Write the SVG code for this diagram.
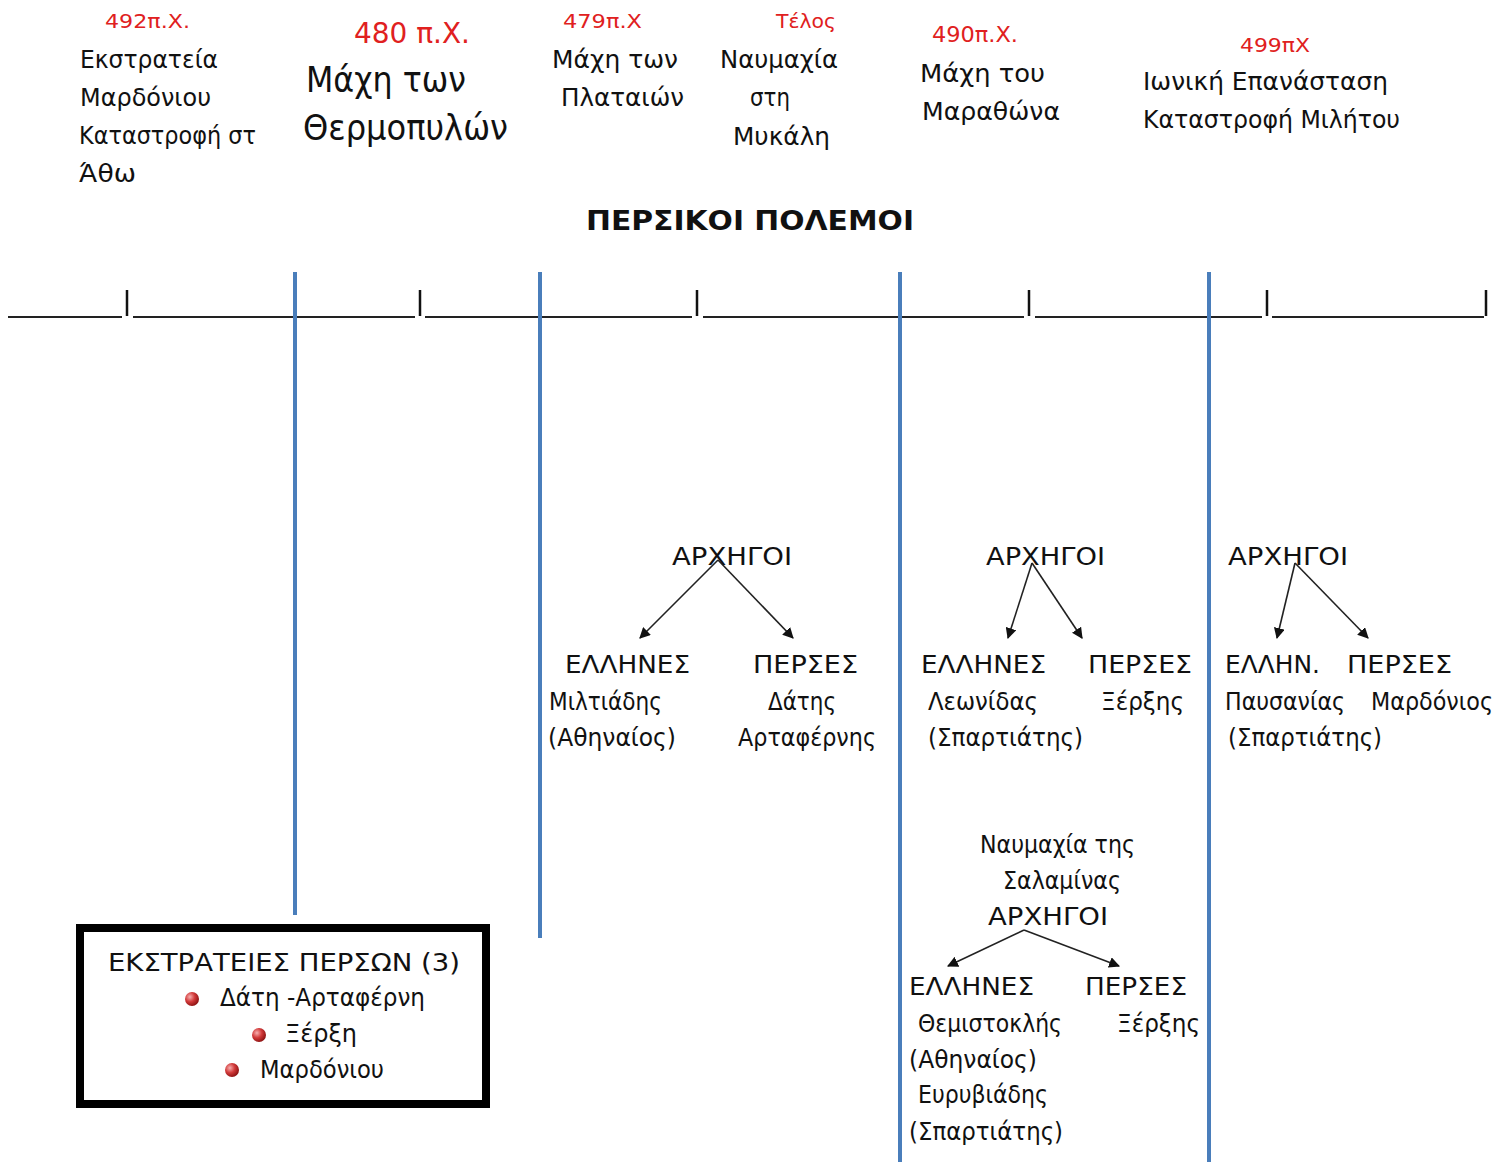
<svg xmlns="http://www.w3.org/2000/svg" width="1506" height="1162" viewBox="0 0 1506 1162">
<style>
text{font-family:"DejaVu Sans","Noto Sans",sans-serif;fill:#111;}
.red{fill:#e02020;}
.t{font-size:25px;}
.big{font-size:35px;}
.title{font-size:27px;font-weight:bold;}
.axis{stroke:#222;stroke-width:2;fill:none;}
.tick{stroke:#111;stroke-width:2.5;}
.blue{stroke:#4a7ebb;stroke-width:4;}
.conn{stroke:#222;stroke-width:1.6;fill:none;marker-end:url(#ah);}
</style>
<defs>
<marker id="ah" viewBox="0 0 10 10" refX="9" refY="5" markerWidth="11" markerHeight="11" markerUnits="userSpaceOnUse" orient="auto">
<path d="M0,0 L10,5 L0,10 z" fill="#111"/>
</marker>
<radialGradient id="ball" cx="0.35" cy="0.35" r="0.7">
<stop offset="0" stop-color="#f7b0b0"/>
<stop offset="0.5" stop-color="#d23a3a"/>
<stop offset="1" stop-color="#8a1010"/>
</radialGradient>
</defs>
<rect width="1506" height="1162" fill="#fff"/>

<g id="events">
<g id="e492">
<text class="red" x="105" y="28" font-size="20" textLength="85" lengthAdjust="spacingAndGlyphs">492π.Χ.</text>
<text class="t" x="80" y="68" textLength="138" lengthAdjust="spacingAndGlyphs">Εκστρατεία</text>
<text class="t" x="80" y="106" textLength="131" lengthAdjust="spacingAndGlyphs">Μαρδόνιου</text>
<text class="t" x="79" y="144" textLength="177" lengthAdjust="spacingAndGlyphs">Καταστροφή στ</text>
<text class="t" x="79" y="182" textLength="57" lengthAdjust="spacingAndGlyphs">Άθω</text>
</g>
<g id="e480">
<text class="red" x="354" y="43" font-size="28" textLength="116" lengthAdjust="spacingAndGlyphs">480 π.Χ.</text>
<text class="big" x="306" y="92" textLength="160" lengthAdjust="spacingAndGlyphs">Μάχη των</text>
<text class="big" x="303" y="140" textLength="205" lengthAdjust="spacingAndGlyphs">Θερμοπυλών</text>
</g>
<g id="e479">
<text class="red" x="563" y="28" font-size="20" textLength="79" lengthAdjust="spacingAndGlyphs">479π.Χ</text>
<text class="t" x="552" y="68" textLength="126" lengthAdjust="spacingAndGlyphs">Μάχη των</text>
<text class="t" x="561" y="106" textLength="123" lengthAdjust="spacingAndGlyphs">Πλαταιών</text>
</g>
<g id="eTelos">
<text class="red" x="776" y="28" font-size="20" textLength="60" lengthAdjust="spacingAndGlyphs">Τέλος</text>
<text class="t" x="720" y="68" textLength="118" lengthAdjust="spacingAndGlyphs">Ναυμαχία</text>
<text class="t" x="750" y="106" textLength="40" lengthAdjust="spacingAndGlyphs">στη</text>
<text class="t" x="733" y="145" textLength="97" lengthAdjust="spacingAndGlyphs">Μυκάλη</text>
</g>
<g id="e490">
<text class="red" x="932" y="42" font-size="22" textLength="86" lengthAdjust="spacingAndGlyphs">490π.Χ.</text>
<text class="t" x="920" y="82" textLength="125" lengthAdjust="spacingAndGlyphs">Μάχη του</text>
<text class="t" x="922" y="120" textLength="138" lengthAdjust="spacingAndGlyphs">Μαραθώνα</text>
</g>
<g id="e499">
<text class="red" x="1240" y="52" font-size="20" textLength="70" lengthAdjust="spacingAndGlyphs">499πΧ</text>
<text class="t" x="1143" y="90" textLength="245" lengthAdjust="spacingAndGlyphs">Ιωνική Επανάσταση</text>
<text class="t" x="1143" y="128" textLength="257" lengthAdjust="spacingAndGlyphs">Καταστροφή Μιλήτου</text>
</g>
</g>

<g id="title">
<text class="title" x="586" y="230" textLength="328" lengthAdjust="spacingAndGlyphs">ΠΕΡΣΙΚΟΙ ΠΟΛΕΜΟΙ</text>
</g>

<g id="timeline">
<path class="axis" d="M8,317 H122 M133,317 H415 M425,317 H692 M703,317 H1024 M1035,317 H1262 M1272,317 H1484"/>
<path class="tick" d="M127,290 V316 M420,290 V316 M697,290 V316 M1029,290 V316 M1267,290 V316 M1486,290 V316"/>
</g>

<g id="dividers">
<line class="blue" x1="295" y1="272" x2="295" y2="915"/>
<line class="blue" x1="540" y1="272" x2="540" y2="938"/>
<line class="blue" x1="900" y1="272" x2="900" y2="1162"/>
<line class="blue" x1="1209" y1="272" x2="1209" y2="1162"/>
</g>

<g id="leaders-marathon">
<text class="t" x="672" y="565" textLength="120" lengthAdjust="spacingAndGlyphs">ΑΡΧΗΓΟΙ</text>
<text class="t" x="565" y="673" textLength="125" lengthAdjust="spacingAndGlyphs">ΕΛΛΗΝΕΣ</text>
<text class="t" x="753" y="673" textLength="105" lengthAdjust="spacingAndGlyphs">ΠΕΡΣΕΣ</text>
<text class="t" x="549" y="710" textLength="113" lengthAdjust="spacingAndGlyphs">Μιλτιάδης</text>
<text class="t" x="548" y="746" textLength="128" lengthAdjust="spacingAndGlyphs">(Αθηναίος)</text>
<text class="t" x="768" y="710" textLength="68" lengthAdjust="spacingAndGlyphs">Δάτης</text>
<text class="t" x="738" y="746" textLength="138" lengthAdjust="spacingAndGlyphs">Αρταφέρνης</text>
</g>

<g id="leaders-thermopylae">
<text class="t" x="986" y="565" textLength="119" lengthAdjust="spacingAndGlyphs">ΑΡΧΗΓΟΙ</text>
<text class="t" x="921" y="673" textLength="125" lengthAdjust="spacingAndGlyphs">ΕΛΛΗΝΕΣ</text>
<text class="t" x="1088" y="673" textLength="104" lengthAdjust="spacingAndGlyphs">ΠΕΡΣΕΣ</text>
<text class="t" x="928" y="710" textLength="110" lengthAdjust="spacingAndGlyphs">Λεωνίδας</text>
<text class="t" x="928" y="746" textLength="155" lengthAdjust="spacingAndGlyphs">(Σπαρτιάτης)</text>
<text class="t" x="1101" y="710" textLength="83" lengthAdjust="spacingAndGlyphs">Ξέρξης</text>
</g>

<g id="leaders-plataea">
<text class="t" x="1228" y="565" textLength="120" lengthAdjust="spacingAndGlyphs">ΑΡΧΗΓΟΙ</text>
<text class="t" x="1225" y="673" textLength="95" lengthAdjust="spacingAndGlyphs">ΕΛΛΗΝ.</text>
<text class="t" x="1347" y="673" textLength="105" lengthAdjust="spacingAndGlyphs">ΠΕΡΣΕΣ</text>
<text class="t" x="1225" y="710" textLength="120" lengthAdjust="spacingAndGlyphs">Παυσανίας</text>
<text class="t" x="1371" y="710" textLength="122" lengthAdjust="spacingAndGlyphs">Μαρδόνιος</text>
<text class="t" x="1228" y="746" textLength="154" lengthAdjust="spacingAndGlyphs">(Σπαρτιάτης)</text>
</g>

<g id="leaders-salamis">
<text class="t" x="980" y="853" textLength="155" lengthAdjust="spacingAndGlyphs">Ναυμαχία της</text>
<text class="t" x="1003" y="889" textLength="118" lengthAdjust="spacingAndGlyphs">Σαλαμίνας</text>
<text class="t" x="988" y="925" textLength="120" lengthAdjust="spacingAndGlyphs">ΑΡΧΗΓΟΙ</text>
<text class="t" x="909" y="995" textLength="125" lengthAdjust="spacingAndGlyphs">ΕΛΛΗΝΕΣ</text>
<text class="t" x="1085" y="995" textLength="102" lengthAdjust="spacingAndGlyphs">ΠΕΡΣΕΣ</text>
<text class="t" x="918" y="1032" textLength="144" lengthAdjust="spacingAndGlyphs">Θεμιστοκλής</text>
<text class="t" x="1117" y="1032" textLength="83" lengthAdjust="spacingAndGlyphs">Ξέρξης</text>
<text class="t" x="909" y="1068" textLength="128" lengthAdjust="spacingAndGlyphs">(Αθηναίος)</text>
<text class="t" x="918" y="1103" textLength="130" lengthAdjust="spacingAndGlyphs">Ευρυβιάδης</text>
<text class="t" x="909" y="1140" textLength="154" lengthAdjust="spacingAndGlyphs">(Σπαρτιάτης)</text>
</g>

<g id="campaigns">
<rect x="80" y="928" width="406" height="176" fill="#fff" stroke="#000" stroke-width="8"/>
<text class="t" x="108" y="971" textLength="352" lengthAdjust="spacingAndGlyphs">ΕΚΣΤΡΑΤΕΙΕΣ ΠΕΡΣΩΝ (3)</text>
<circle cx="192" cy="999" r="7" fill="url(#ball)"/>
<text class="t" x="220" y="1006" textLength="205" lengthAdjust="spacingAndGlyphs">Δάτη -Αρταφέρνη</text>
<circle cx="259" cy="1035" r="7" fill="url(#ball)"/>
<text class="t" x="285" y="1042" textLength="72" lengthAdjust="spacingAndGlyphs">Ξέρξη</text>
<circle cx="232" cy="1070" r="7" fill="url(#ball)"/>
<text class="t" x="260" y="1078" textLength="124" lengthAdjust="spacingAndGlyphs">Μαρδόνιου</text>
</g>

<g id="connectors">
<line class="conn" x1="718" y1="560" x2="640" y2="638"/>
<line class="conn" x1="718" y1="560" x2="793" y2="638"/>
<line class="conn" x1="1032" y1="563" x2="1008" y2="638"/>
<line class="conn" x1="1032" y1="563" x2="1082" y2="638"/>
<line class="conn" x1="1295" y1="563" x2="1277" y2="638"/>
<line class="conn" x1="1295" y1="563" x2="1368" y2="638"/>
<line class="conn" x1="1024" y1="930" x2="948" y2="966"/>
<line class="conn" x1="1024" y1="930" x2="1119" y2="966"/>
</g>
</svg>
